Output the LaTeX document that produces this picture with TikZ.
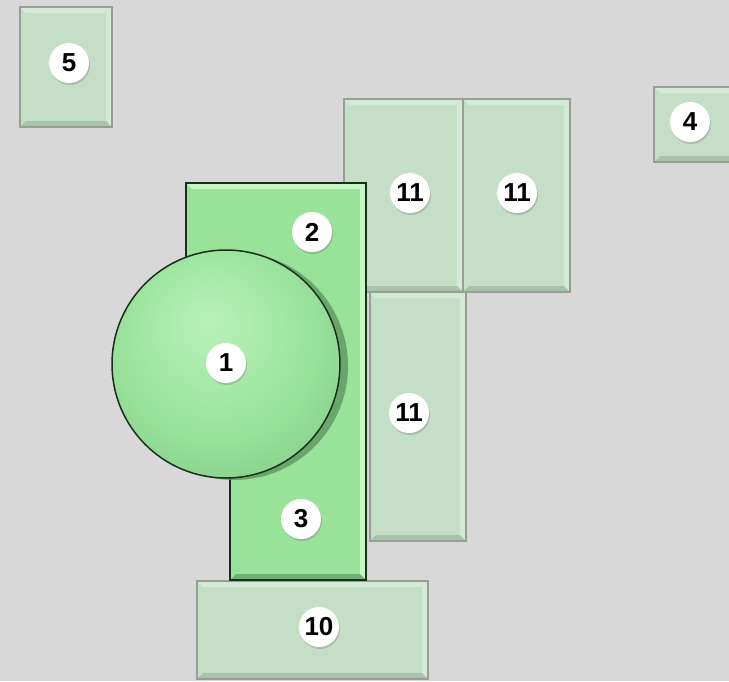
\documentclass[tikz,border=0pt]{standalone}
\usepackage{fontspec}
\setmainfont{Liberation Sans}
\usetikzlibrary{shadows}
\definecolor{bg}{RGB}{216, 216, 216}
\definecolor{pale}{RGB}{196, 222, 199}
\definecolor{paledark}{RGB}{170, 194, 172}
\definecolor{palelight}{RGB}{212, 234, 214}
\definecolor{edge}{RGB}{150, 158, 150}
\definecolor{mint}{RGB}{152, 226, 154}
\definecolor{mintdark}{RGB}{112, 176, 114}
\definecolor{mintlight}{RGB}{196, 246, 198}
\definecolor{ball}{RGB}{110, 178, 114}
\definecolor{ballcore}{RGB}{184, 242, 186}
\definecolor{ink}{RGB}{24, 48, 26}
\pgfdeclareradialshading{ballshade}{\pgfpoint{-4bp}{10bp}}{color(0bp)=(ballcore); color(22bp)=(mint); color(50bp)=(ball)}

\begin{document}
\begin{tikzpicture}[
   x=1pt, y=-1pt,
   tag/.style={circle, fill=white, draw=none, text=black, inner sep=0pt,
               minimum size=40pt, font=\fontsize{26}{26}\selectfont\bfseries,
               drop shadow={shadow xshift=1pt, shadow yshift=-2pt, opacity=0.35}},
   frame/.style={draw=edge, line width=2},
   block/.style={draw=ink, line width=2.5}
  ]

  % Page and background
  \useasboundingbox (0, 0) rectangle (729, 681);
  \fill[bg] (0, 0) rectangle (729, 681);

  % Pale bevelled blocks
  \foreach \xa/\ya/\xb/\yb in {20/7/112/127, 654/87/740/162, 344/99/463/292,
                               463/99/570/292, 370/292/466/541, 197/581/428/679} {
    \fill[pale] (\xa, \ya) rectangle (\xb, \yb);
    \fill[palelight] (\xa, \ya) -- (\xb, \ya) -- (\xb - 6, \ya + 6) -- (\xa + 6, \ya + 6) -- cycle;
    \fill[palelight] (\xb, \ya) -- (\xb, \yb) -- (\xb - 6, \yb - 6) -- (\xb - 6, \ya + 6) -- cycle;
    \fill[paledark] (\xa, \yb) -- (\xb, \yb) -- (\xb - 6, \yb - 6) -- (\xa + 6, \yb - 6) -- cycle;
    \draw[frame] (\xa, \ya) rectangle (\xb, \yb);
  }

  % Green block behind the ball
  \fill[mint] (186, 183) -- (366, 183) -- (366, 580) -- (230, 580) -- (230, 400)
              -- (186, 400) -- cycle;
  \fill[mintlight] (186, 183) -- (366, 183) -- (360, 189) -- (192, 189) -- cycle;
  \fill[mintlight] (366, 183) -- (366, 580) -- (360, 574) -- (360, 189) -- cycle;
  \fill[mintdark] (230, 580) -- (366, 580) -- (360, 574) -- (236, 574) -- cycle;
  \draw[block] (186, 400) -- (186, 183) -- (366, 183) -- (366, 580) -- (230, 580)
               -- (230, 400);

  % Ball
  \fill[mintdark!85!black, opacity=0.8] (234, 366) circle (114);
  \shade[shading=ballshade] (226, 364) circle (114);
  \draw[ink, line width=1.5] (226, 364) circle (114);

  % Number tags
  \foreach \t/\x/\y [count=\i] in {1/226/363, 2/312/232, 3/301/519, 4/690/122,
                                   5/69/63, 10/319/627, 11/410/193, 11/517/193,
                                   11/409/413} {
    \node[tag] (T\i) at (\x, \y) {\t};
  }

\end{tikzpicture}
\end{document}
